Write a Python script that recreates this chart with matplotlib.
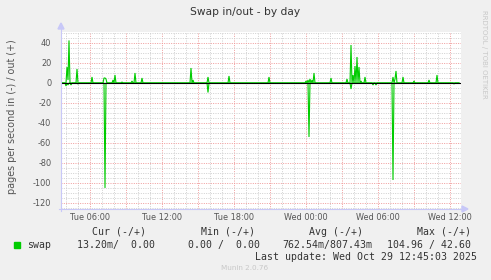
import numpy as np
import matplotlib
matplotlib.use("Agg")
import matplotlib.pyplot as plt
from matplotlib.patches import Polygon

# ---------------- data ----------------
title = "Swap in/out - by day"
ylabel = "pages per second in (-) / out (+)"
x_tick_labels = ["Tue 06:00", "Tue 12:00", "Tue 18:00", "Wed 00:00", "Wed 06:00", "Wed 12:00"]
y_ticks = [40, 20, 0, -20, -40, -60, -80, -100, -120]

# samples (5 min) that are not zero; all other samples are 0
out_times = ["Tue 03:35", "Tue 04:05", "Tue 04:10", "Tue 04:15", "Tue 04:55", "Tue 06:10",
             "Tue 07:10", "Tue 07:15", "Tue 07:20", "Tue 07:55", "Tue 08:05", "Tue 08:40",
             "Tue 09:30", "Tue 09:45", "Tue 10:20", "Tue 14:25", "Tue 14:35", "Tue 15:50",
             "Tue 17:35", "Tue 20:55", "Wed 00:00", "Wed 00:10", "Wed 00:20", "Wed 00:30",
             "Wed 00:40", "Wed 02:05", "Wed 03:25", "Wed 03:45", "Wed 03:55", "Wed 04:05",
             "Wed 04:15", "Wed 04:25", "Wed 04:35", "Wed 04:55", "Wed 07:15", "Wed 07:25",
             "Wed 07:30", "Wed 08:05", "Wed 09:00", "Wed 10:15", "Wed 10:55"]
out_vals = [2, 16, 3, 42.6, 14, 6,
            5, 5, 4, 3, 8, 1,
            2, 10, 5, 15, 3, 6,
            7, 6, 2, 3, 4, 3,
            10, 5, 4, 38, 8, 17,
            26, 16, 2, 6, 6, 4,
            12, 6, 2, 3, 8]
in_times = ["Tue 04:00", "Tue 04:10", "Tue 04:25", "Tue 05:00", "Tue 07:15", "Tue 15:50",
            "Wed 00:15", "Wed 03:45", "Wed 05:35", "Wed 05:50", "Wed 07:15", "Wed 12:20"]
in_vals = [3, 2, 2, 1, 104.96, 9.5,
           54, 6, 2, 2, 97, 1]

data_start = "Tue 03:35"
data_end = "Wed 12:45"
view_start = "Tue 03:35"
view_end = "Wed 12:55"

legend_heads = ["Cur (-/+)", "Min (-/+)", "Avg (-/+)", "Max (-/+)"]
legend_vals = ["13.20m/  0.00", "0.00 /  0.00", "762.54m/807.43m", "104.96 / 42.60"]
series_name = "swap"
last_update = "Last update: Wed Oct 29 12:45:03 2025"
munin_ver = "Munin 2.0.76"
watermark = "RRDTOOL / TOBI OETIKER"

# ---------------- helpers ----------------
def to_hours(s):
    day, hm = s.split()
    h, m = hm.split(":")
    return (24 if day == "Wed" else 0) + int(h) + int(m) / 60.0

step = 5 / 60.0
t0, t1 = to_hours(data_start), to_hours(data_end)
n = int(round((t1 - t0) / step)) + 1
times = t0 + np.arange(n) * step
out_series = np.zeros(n)
in_series = np.zeros(n)
for s, v in zip(out_times, out_vals):
    out_series[int(round((to_hours(s) - t0) / step))] = v
for s, v in zip(in_times, in_vals):
    in_series[int(round((to_hours(s) - t0) / step))] = v

# ---------------- figure ----------------
W, H = 491, 280
fig = plt.figure(figsize=(W / 100, H / 100), dpi=100)
fig.patch.set_facecolor("#f0f0f0")
L, R, T, B = 61, 461, 32, 209
ax = fig.add_axes([L / W, 1 - B / H, (R - L) / W, (B - T) / H])
ax.set_facecolor("white")

xmin, xmax = to_hours(view_start), to_hours(view_end)
ymin, ymax = -126, 51
ax.set_xlim(xmin, xmax)
ax.set_ylim(ymin, ymax)

# grid
minor_c = "#cfcfcf"
major_c = "#f09a9a"
for h in np.arange(np.ceil(xmin), xmax, 1):
    c = major_c if h % 3 == 0 else minor_c
    ax.axvline(h, color=c, lw=0.7, ls=(0, (1, 1.4)), zorder=1)
for yv in np.arange(-125, 51, 5):
    c = major_c if yv % 20 == 0 else minor_c
    ax.axhline(yv, color=c, lw=0.7, ls=(0, (1, 1.4)), zorder=1)

green = "#00cc00"
ax.plot(times, out_series, color=green, lw=0.8, zorder=3, solid_joinstyle="miter")
ax.plot(times, -in_series, color=green, lw=0.8, zorder=3, solid_joinstyle="miter")
ax.axhline(0, color="black", lw=0.8, zorder=4)

for sp in ax.spines.values():
    sp.set_visible(False)

# ticks
x_ticks = [to_hours(s) for s in x_tick_labels]
ax.set_xticks(x_ticks)
ax.set_xticklabels(x_tick_labels)
ax.set_yticks(y_ticks)
ax.set_yticklabels([str(v) for v in y_ticks])
ax.tick_params(axis="both", length=0, labelsize=5.9, labelcolor="#555555")
ax.tick_params(axis="x", pad=3)
ax.tick_params(axis="y", pad=7)

# axis lines with arrows (in figure pixels)
axc = "#c8c8f8"
fig.add_artist(plt.Line2D([L / W, L / W], [1 - (B + 2) / H, 1 - (T - 3) / H], color=axc, lw=0.8,
                          transform=fig.transFigure))
fig.add_artist(plt.Line2D([(L - 2) / W, (R + 2) / W], [1 - B / H, 1 - B / H], color=axc, lw=0.8,
                          transform=fig.transFigure))
fig.add_artist(Polygon([[(L - 3) / W, 1 - (T - 3) / H], [(L + 3) / W, 1 - (T - 3) / H],
                        [L / W, 1 - (T - 9) / H]], closed=True, color=axc, transform=fig.transFigure))
fig.add_artist(Polygon([[(R + 1) / W, 1 - (B - 3) / H], [(R + 1) / W, 1 - (B + 3) / H],
                        [(R + 7) / W, 1 - B / H]], closed=True, color=axc, transform=fig.transFigure))

# texts
fig.text(245 / W, 1 - 12 / H, title, ha="center", va="center", fontsize=7.7, color="#333333")
fig.text(12 / W, 1 - 117 / H, ylabel, ha="center", va="center", rotation=90,
         fontsize=6.9, color="#555555")
fig.text(484 / W, 1 - 54 / H, watermark, ha="center", va="center", rotation=270,
         fontsize=5.0, color="#c8c8c8")

mono = "DejaVu Sans Mono"
fs = 7.15
head_x = [92, 201, 309, 417]
for x, s in zip(head_x, legend_heads):
    fig.text(x / W, 1 - 232 / H, s, ha="left", va="center", fontsize=fs, family=mono, color="#333333")
fig.add_artist(plt.Rectangle((14 / W, 1 - 248 / H), 6 / W, 6 / H, color=green, transform=fig.transFigure))
fig.text(27 / W, 1 - 245 / H, series_name, ha="left", va="center", fontsize=fs, family=mono, color="#333333")
val_x = [77, 188, 282, 387]
for x, s in zip(val_x, legend_vals):
    fig.text(x / W, 1 - 245 / H, s, ha="left", va="center", fontsize=fs, family=mono, color="#333333")
fig.text(477 / W, 1 - 257 / H, last_update, ha="right", va="center", fontsize=fs, family=mono,
         color="#333333")
fig.text(245 / W, 1 - 268 / H, munin_ver, ha="center", va="center", fontsize=5.2, color="#c8c8c8")

fig.savefig("out.png", dpi=100, facecolor=fig.get_facecolor())
